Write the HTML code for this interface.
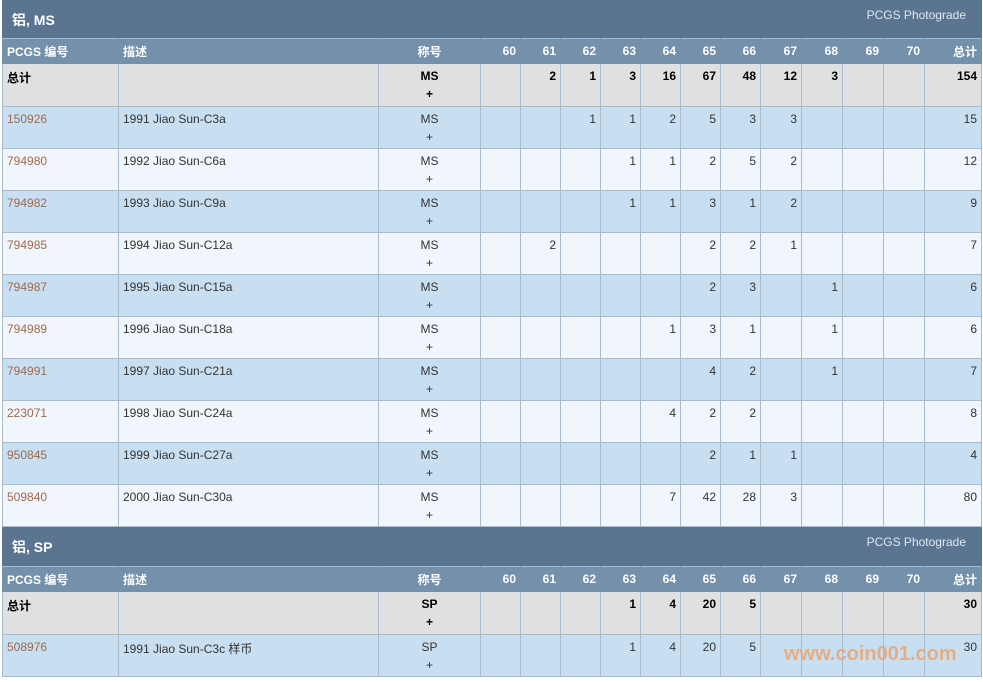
<!DOCTYPE html><html><head><meta charset="utf-8"><style>
body{margin:0;width:983px;height:682px;overflow:hidden;background:#fff;font-family:"Liberation Sans","Noto Sans CJK SC",sans-serif;font-size:12px;color:#333}
.w{position:absolute;left:2px;width:980px}
.h{background:#5b7591;color:#fff;position:relative}
.h b{position:absolute;left:10px;top:10px;font-size:14px}
.h span{position:absolute;right:16px;top:8px;color:#dde7f0;font-size:12px}
table{border-collapse:collapse;width:980px;table-layout:fixed}
td,th{border:1px solid #a9bccd;padding:0 4px;vertical-align:top;text-align:right;overflow:hidden;white-space:nowrap}
th{background:#7590aa;color:#fff;height:24px;vertical-align:middle;font-weight:bold;border-color:#7590aa;border-top:1px solid #a9bfd2}
td{height:42px;padding-top:5px;box-sizing:border-box}
tr.t td{height:43px}
.l{text-align:left}.c{text-align:center}
tr.t td{background:#e0e0e0;font-weight:bold;color:#000}
tr.a td{background:#c8dff2}tr.b td{background:#f0f6fb}
a{color:#a0684e;text-decoration:none}
.m{line-height:18px;padding-top:3px}
</style></head><body>
<div class="w" style="top:0">
<div class="h" style="height:38px"><b>铝, MS</b><span>PCGS Photograde</span></div>
<table><colgroup><col style="width:116px"><col style="width:260px"><col style="width:102px"><col style="width:40px"><col style="width:40px"><col style="width:40px"><col style="width:40px"><col style="width:40px"><col style="width:40px"><col style="width:40px"><col style="width:41px"><col style="width:41px"><col style="width:41px"><col style="width:41px"><col></colgroup>
<tr><th class="l">PCGS 编号</th><th class="l">描述</th><th class="c">称号</th><th>60</th><th>61</th><th>62</th><th>63</th><th>64</th><th>65</th><th>66</th><th>67</th><th>68</th><th>69</th><th>70</th><th>总计</th></tr>
<tr class="t"><td class="l">总计</td><td></td><td class="c m">MS<br>+</td><td></td><td>2</td><td>1</td><td>3</td><td>16</td><td>67</td><td>48</td><td>12</td><td>3</td><td></td><td></td><td>154</td></tr>
<tr class="a"><td class="l"><a>150926</a></td><td class="l">1991 Jiao Sun-C3a</td><td class="c m">MS<br>+</td><td></td><td></td><td>1</td><td>1</td><td>2</td><td>5</td><td>3</td><td>3</td><td></td><td></td><td></td><td>15</td></tr>
<tr class="b"><td class="l"><a>794980</a></td><td class="l">1992 Jiao Sun-C6a</td><td class="c m">MS<br>+</td><td></td><td></td><td></td><td>1</td><td>1</td><td>2</td><td>5</td><td>2</td><td></td><td></td><td></td><td>12</td></tr>
<tr class="a"><td class="l"><a>794982</a></td><td class="l">1993 Jiao Sun-C9a</td><td class="c m">MS<br>+</td><td></td><td></td><td></td><td>1</td><td>1</td><td>3</td><td>1</td><td>2</td><td></td><td></td><td></td><td>9</td></tr>
<tr class="b"><td class="l"><a>794985</a></td><td class="l">1994 Jiao Sun-C12a</td><td class="c m">MS<br>+</td><td></td><td>2</td><td></td><td></td><td></td><td>2</td><td>2</td><td>1</td><td></td><td></td><td></td><td>7</td></tr>
<tr class="a"><td class="l"><a>794987</a></td><td class="l">1995 Jiao Sun-C15a</td><td class="c m">MS<br>+</td><td></td><td></td><td></td><td></td><td></td><td>2</td><td>3</td><td></td><td>1</td><td></td><td></td><td>6</td></tr>
<tr class="b"><td class="l"><a>794989</a></td><td class="l">1996 Jiao Sun-C18a</td><td class="c m">MS<br>+</td><td></td><td></td><td></td><td></td><td>1</td><td>3</td><td>1</td><td></td><td>1</td><td></td><td></td><td>6</td></tr>
<tr class="a"><td class="l"><a>794991</a></td><td class="l">1997 Jiao Sun-C21a</td><td class="c m">MS<br>+</td><td></td><td></td><td></td><td></td><td></td><td>4</td><td>2</td><td></td><td>1</td><td></td><td></td><td>7</td></tr>
<tr class="b"><td class="l"><a>223071</a></td><td class="l">1998 Jiao Sun-C24a</td><td class="c m">MS<br>+</td><td></td><td></td><td></td><td></td><td>4</td><td>2</td><td>2</td><td></td><td></td><td></td><td></td><td>8</td></tr>
<tr class="a"><td class="l"><a>950845</a></td><td class="l">1999 Jiao Sun-C27a</td><td class="c m">MS<br>+</td><td></td><td></td><td></td><td></td><td></td><td>2</td><td>1</td><td>1</td><td></td><td></td><td></td><td>4</td></tr>
<tr class="b"><td class="l"><a>509840</a></td><td class="l">2000 Jiao Sun-C30a</td><td class="c m">MS<br>+</td><td></td><td></td><td></td><td></td><td>7</td><td>42</td><td>28</td><td>3</td><td></td><td></td><td></td><td>80</td></tr>
</table></div>
<div class="w" style="top:527px">
<div class="h" style="height:39px"><b>铝, SP</b><span>PCGS Photograde</span></div>
<table><colgroup><col style="width:116px"><col style="width:260px"><col style="width:102px"><col style="width:40px"><col style="width:40px"><col style="width:40px"><col style="width:40px"><col style="width:40px"><col style="width:40px"><col style="width:40px"><col style="width:41px"><col style="width:41px"><col style="width:41px"><col style="width:41px"><col></colgroup>
<tr><th class="l">PCGS 编号</th><th class="l">描述</th><th class="c">称号</th><th>60</th><th>61</th><th>62</th><th>63</th><th>64</th><th>65</th><th>66</th><th>67</th><th>68</th><th>69</th><th>70</th><th>总计</th></tr>
<tr class="t"><td class="l">总计</td><td></td><td class="c m">SP<br>+</td><td></td><td></td><td></td><td>1</td><td>4</td><td>20</td><td>5</td><td></td><td></td><td></td><td></td><td>30</td></tr>
<tr class="a"><td class="l"><a>508976</a></td><td class="l">1991 Jiao Sun-C3c 样币</td><td class="c m">SP<br>+</td><td></td><td></td><td></td><td>1</td><td>4</td><td>20</td><td>5</td><td></td><td></td><td></td><td></td><td>30</td></tr>
</table></div>
<div style="position:absolute;left:784px;top:643px;color:#e8a877;font-weight:bold;font-size:20px;opacity:.9">www.coin001.com</div>
</body></html>
